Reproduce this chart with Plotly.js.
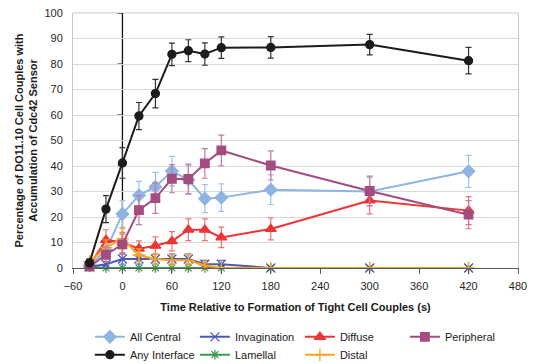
<!DOCTYPE html>
<html>
<head>
<meta charset="utf-8">
<script src="https://cdn.plot.ly/plotly-3.0.1.min.js"></script>
<style>html,body{margin:0;padding:0;background:#fff;}#chart{width:534px;height:364px;}</style>
</head>
<body>
<div id="chart"></div>
<script>
// Time points (s)
const times = [-40, -20, 0, 20, 40, 60, 80, 100, 120, 180, 300, 420];

// Series values (%)
const allCentral    = [1, 7, 21.2, 28.5, 31.8, 38, 34.6, 27.2, 27.6, 30.7, 30, 37.9];
const allCentralErr = [1, 3, 5.2, 5.5, 5.7, 5.8, 5.6, 5.5, 5.4, 5.8, 5.5, 6.3];

const invagination    = [0.5, 1.5, 3.5, 3.5, 3.5, 3.5, 3.5, 1.5, 1.5, 0, 0, 0];
const invaginationErr = [0.5, 1, 2, 2, 2, 2, 2, 1.5, 1.5, 0, 0, 0];

const diffuse    = [1, 11, 10, 7.6, 8.7, 10.5, 15, 15, 12, 15.3, 26.5, 22.5];
const diffuseErr = [1, 4, 4, 3, 3.5, 3.8, 4.3, 4.3, 4, 4.3, 5.3, 5.5];

const peripheral    = [0.5, 5.2, 9.3, 22.7, 27.4, 35, 34.9, 41, 46.1, 40.2, 30.2, 20.9];
const peripheralErr = [1, 3, 4, 5.7, 6, 5.5, 5.8, 5.8, 6, 5.7, 5.8, 5.5];

const anyInterface    = [2, 23.1, 41.2, 59.6, 68.4, 83.8, 85.2, 83.9, 86.4, 86.5, 87.6, 81.3];
const anyInterfaceErr = [1.5, 5.3, 6, 5.3, 5.6, 4.4, 4.3, 4.4, 4.2, 4.2, 4, 5.2];

const lamellal    = [0.5, 0, 0, 0, 0, 0, 0, 0, 0, 0, 0, 0];
const lamellalErr = [0.5, 0, 0, 0, 0, 0, 0, 0, 0, 0, 0, 0];

const distal    = [2.5, 8, 11.5, 5, 3.5, 3, 3, 1, 0, 0, 0, 0];
const distalErr = [1, 3, 4, 2.5, 2, 2, 2, 1, 0, 0, 0, 0];

const yTicks = [0, 10, 20, 30, 40, 50, 60, 70, 80, 90, 100];

function series(name, y, err, color, errColor, symbol, size, legend, rank) {
  return {
    type: 'scatter', mode: 'lines+markers', name: name, x: times, y: y,
    line: {color: color, width: 2},
    marker: {color: color, symbol: symbol, size: size, line: {color: color, width: 1.3}},
    error_y: {type: 'data', array: err, visible: true, color: errColor, thickness: 1.2, width: 3},
    legend: legend, legendrank: rank, cliponaxis: false
  };
}

const data = [
  series('Lamellal', lamellal, lamellalErr, '#3A9A52', '#3A9A52', 'asterisk-open', 8, 'legend2', 2),
  series('All Central', allCentral, allCentralErr, '#8DB4E2', '#9FC2EA', 'diamond', 9.5, 'legend', 1),
  series('Invagination', invagination, invaginationErr, '#4A58BA', '#6E7BCB', 'x-thin-open', 9, 'legend', 2),
  series('Diffuse', diffuse, diffuseErr, '#EC3434', '#EE7272', 'triangle-up', 9.5, 'legend', 3),
  series('Distal', distal, distalErr, '#FBA51A', '#FBA51A', 'cross-thin-open', 9, 'legend2', 3),
  series('Peripheral', peripheral, peripheralErr, '#A44C80', '#C27AA3', 'square', 8.5, 'legend', 4),
  series('Any Interface', anyInterface, anyInterfaceErr, '#1C1C1C', '#333333', 'circle', 8, 'legend2', 1)
];

const shapes = [
  {type: 'line', xref: 'paper', yref: 'paper', x0: 0, x1: 1, y0: 1, y1: 1, line: {color: '#C8C8C8', width: 1}, layer: 'below'},
  {type: 'line', xref: 'x', yref: 'y', x0: 0, x1: 0, y0: 0, y1: 100, line: {color: '#111', width: 1.3}, layer: 'below'}
];
yTicks.forEach(v => {
  shapes.push({type: 'line', xref: 'x', yref: 'y', xsizemode: 'pixel', xanchor: 0, x0: -5, x1: 0, y0: v, y1: v,
               line: {color: '#111', width: 1}, layer: 'below'});
});

const tickFont = {family: 'Liberation Sans, Arial, sans-serif', size: 11, color: '#262626'};
const titleFont = {family: 'Liberation Sans, Arial, sans-serif', size: 11, color: '#1a1a1a', weight: 'bold'};
const legendFont = {family: 'Liberation Sans, Arial, sans-serif', size: 11, color: '#1a1a1a'};

const layout = {
  width: 534, height: 364,
  margin: {l: 73, r: 16, t: 13, b: 96, autoexpand: false},
  paper_bgcolor: '#fff', plot_bgcolor: '#fff',
  font: tickFont,
  showlegend: true,
  xaxis: {
    range: [-60, 480], tick0: 0, dtick: 60, ticks: 'outside', ticklen: 5, tickcolor: '#595959',
    showline: true, linecolor: '#595959', linewidth: 1.3, showgrid: false, zeroline: false,
    tickfont: tickFont, ticklabelstandoff: 2,
    title: {text: 'Time Relative to Formation of Tight Cell Couples (s)', font: titleFont, standoff: 12}
  },
  yaxis: {
    range: [0, 100], tick0: 0, dtick: 10, ticks: '', showline: true, linecolor: '#C8C8C8', mirror: true,
    showgrid: true, gridcolor: '#D9D9D9', zeroline: false, tickfont: tickFont, ticklabelstandoff: 7,
    title: {text: 'Percentage of DO11.10 Cell Couples with<br>Accumulation of Cdc42 Sensor', font: titleFont, standoff: 4}
  },
  shapes: shapes,
  legend: {
    orientation: 'h', x: 0.038, xanchor: 'left', y: -0.27, yanchor: 'middle',
    entrywidth: 60, entrywidthmode: 'pixels', itemwidth: 30,
    font: legendFont, bgcolor: 'rgba(0,0,0,0)', traceorder: 'normal'
  },
  legend2: {
    orientation: 'h', x: 0.038, xanchor: 'left', y: -0.34, yanchor: 'middle',
    entrywidth: 60, entrywidthmode: 'pixels', itemwidth: 30,
    font: legendFont, bgcolor: 'rgba(0,0,0,0)', traceorder: 'normal'
  }
};

Plotly.newPlot('chart', data, layout, {displayModeBar: false, staticPlot: true});
</script>
</body>
</html>
